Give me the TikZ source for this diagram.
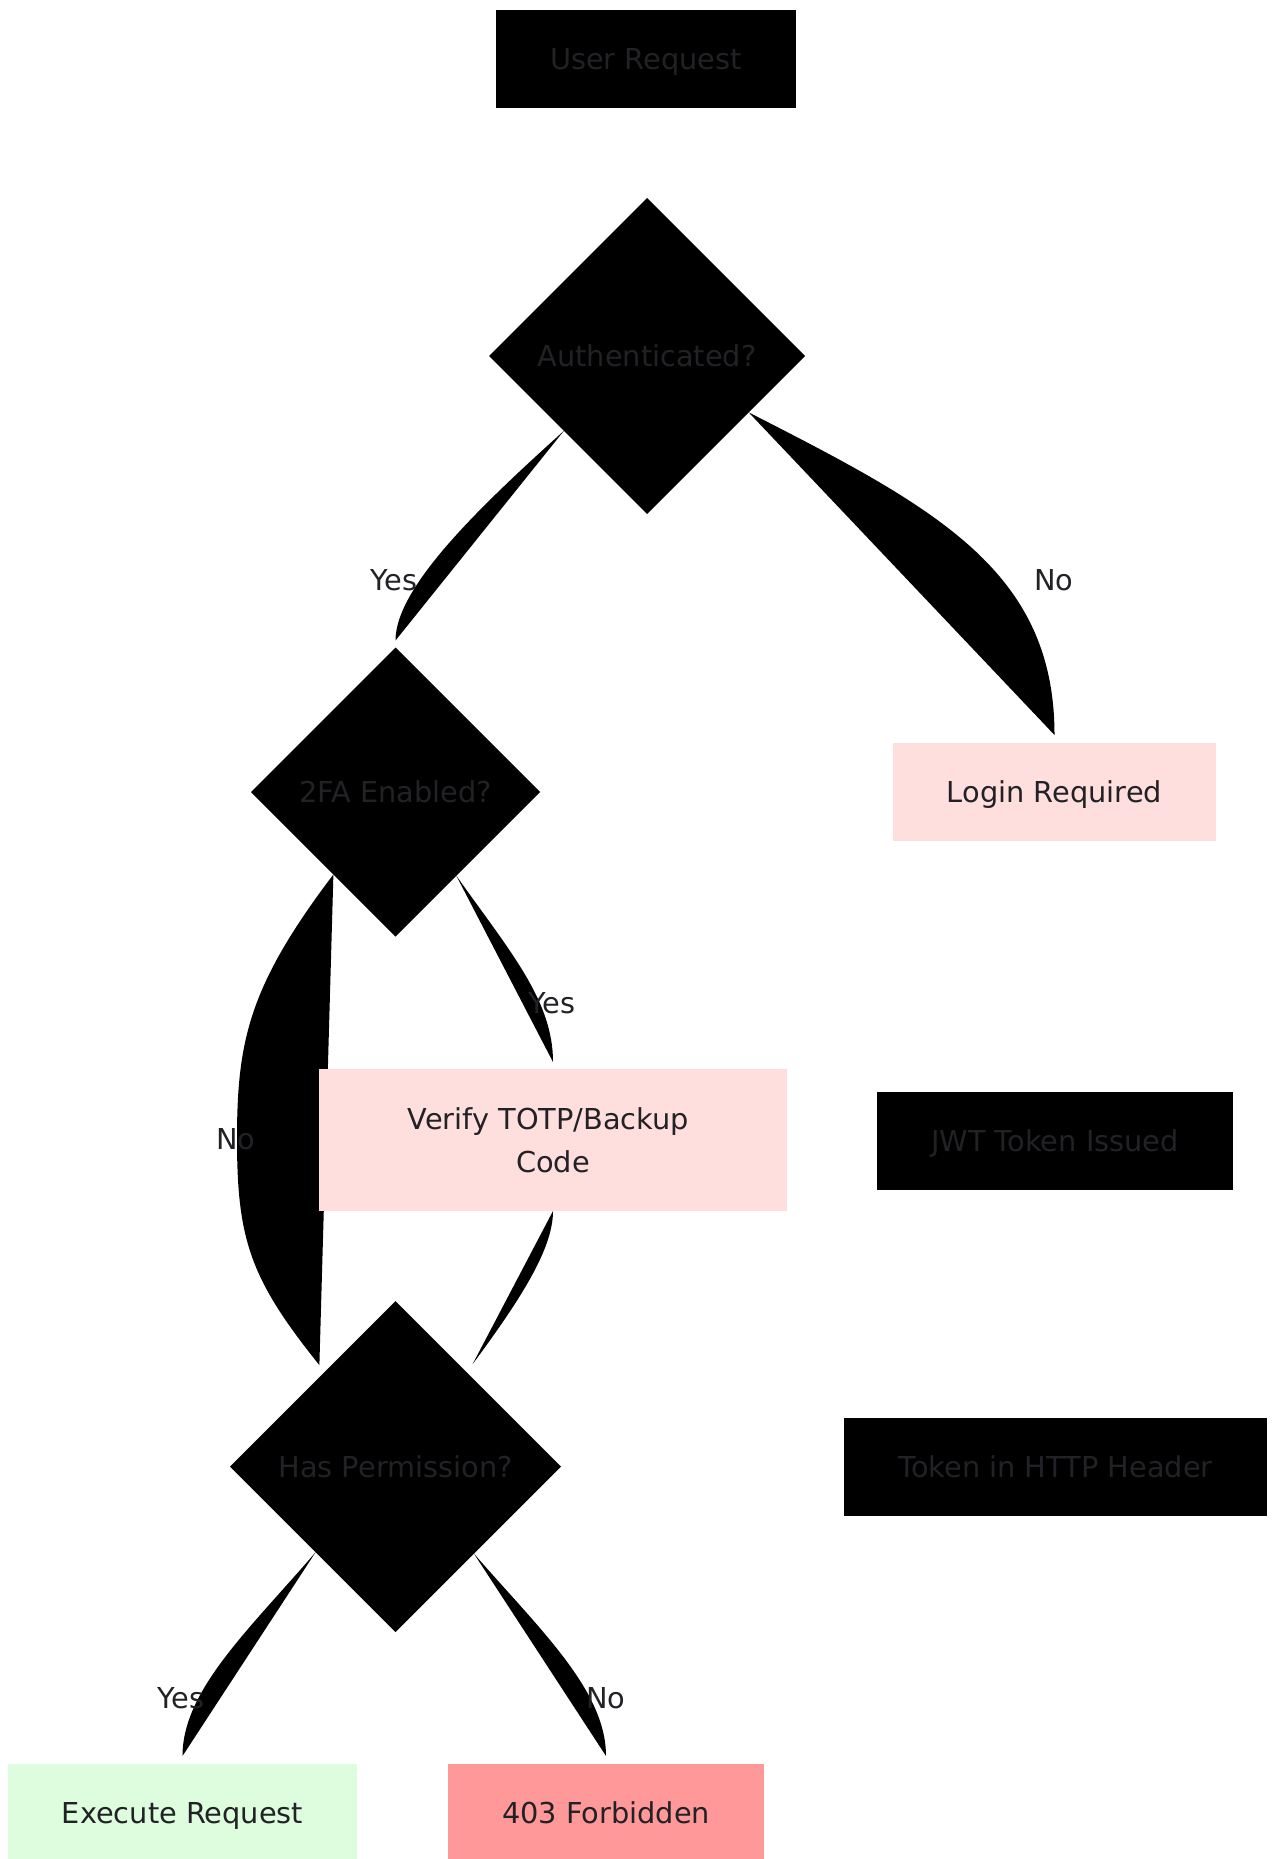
\documentclass[tikz,border=0pt]{standalone}
\usepackage{fontspec}
\setmainfont{DejaVu Sans}
\usetikzlibrary{shapes.geometric,backgrounds}
\definecolor{ink}{RGB}{34,34,38}
\definecolor{warnfill}{RGB}{255,222,222}
\definecolor{okfill}{RGB}{222,253,222}
\definecolor{denyfill}{RGB}{255,153,153}

\begin{document}
\begin{tikzpicture}[x=1pt,y=-1pt,
  every node/.style={font=\fontsize{28.8}{43}\selectfont, text=ink, inner sep=0pt, outer sep=0pt},
  capline/.style={text height=21pt, text depth=0pt},
  box/.style={rectangle, minimum height=98pt},
  decision/.style={diamond, aspect=1, fill=black, capline},
  flow/.style={fill=black},
  edgelabel/.style={capline}
]
\useasboundingbox (0,0) rectangle (1271,1859);

% process steps and decisions
\node[box, capline, minimum width=300pt, fill=black] (req) at (646,59) {User Request};
\node[decision, minimum width=316pt, minimum height=316pt] (auth) at (647,356) {Authenticated?};
\node[decision, minimum width=289pt, minimum height=289pt] (tfa) at (395.5,792) {2FA Enabled?};
\node[box, capline, minimum width=323pt, fill=warnfill] (login) at (1054.5,792) {Login Required};
\node[box, minimum width=468pt, minimum height=142pt, fill=warnfill, align=center] (verify) at (553,1140) {Verify TOTP/Backup\kern0.318em\\Code};
\node[box, capline, minimum width=356pt, fill=black] (jwt) at (1055,1141) {JWT Token Issued};
\node[box, capline, minimum width=423pt, fill=black] (hdr) at (1055.5,1467) {Token in HTTP Header};
\node[decision, minimum width=331pt, minimum height=331pt] (perm) at (395.5,1466.5) {Has Permission?};
\node[box, capline, minimum width=349pt, fill=okfill] (exec) at (182.5,1813) {Execute Request};
\node[box, capline, minimum width=316pt, fill=denyfill] (deny) at (606,1813) {403 Forbidden};

% connectors, filled between the curve and its chord, kept behind the nodes
\begin{pgfonlayer}{background}
\fill[flow] (auth.222) .. controls +(-82,74) and +(0,-54) .. ([yshift=7pt]tfa.north) -- cycle;
\fill[flow] (auth.331) .. controls +(186,95) and +(0,-165) .. ([yshift=8pt]login.north) -- cycle;
\fill[flow] (tfa.306) .. controls +(53,75) and +(0,-62) .. ([yshift=7pt]verify.north) -- cycle;
\coordinate (nobend) at (237,1139);
\fill[flow] (tfa.233) .. controls +(-84,111) and +(0,-99) .. (nobend)
  .. controls +(0,101) and +(-69,-86) .. ([xshift=-5pt,yshift=7pt]perm.127) -- cycle;
\fill[flow] (verify.south) .. controls +(0,38) and +(48,-65) .. ([xshift=6pt,yshift=8pt]perm.53) -- cycle;
\fill[flow] (perm.227) .. controls +(-66,77) and +(0,-66) .. ([yshift=8pt]exec.north) -- cycle;
\fill[flow] (perm.312) .. controls +(65,75) and +(0,-66) .. ([yshift=8pt]deny.north) -- cycle;
\end{pgfonlayer}

% branch labels
\node[edgelabel] (yes1) at (394,580) {Yes};
\node[edgelabel] (no1) at (1054,580) {No};
\node[edgelabel] (yes2) at (552,1003) {Yes};
\node[edgelabel] (no2) at (236,1139) {No};
\node[edgelabel] (yes3) at (181,1698) {Yes};
\node[edgelabel] (no3) at (606,1698) {No};
\end{tikzpicture}
\end{document}
